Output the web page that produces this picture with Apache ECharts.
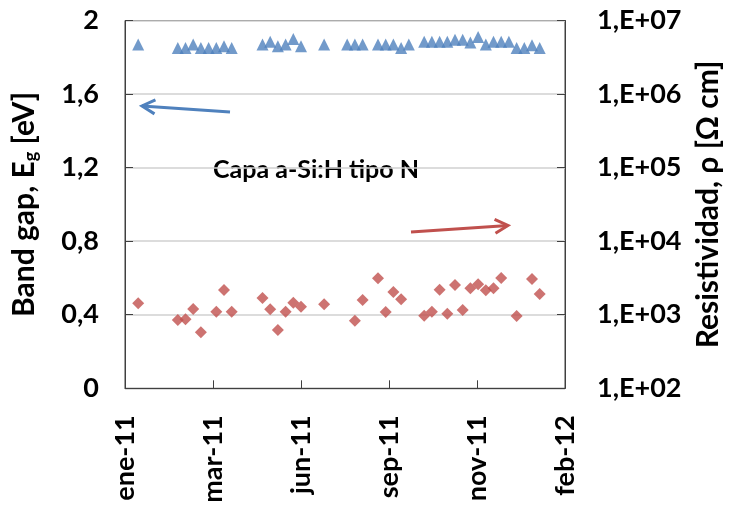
<!DOCTYPE html>
<html>
<head>
<meta charset="utf-8">
<script src="https://cdn.jsdelivr.net/npm/echarts@6/dist/echarts.min.js"></script>
<style>
  html, body { margin: 0; padding: 0; background: #fff; }
  #chart { width: 730px; height: 510px; }
</style>
</head>
<body>
<div id="chart"></div>
<script>
// fechas de medida (semanales)
const fechas = [
  "2011-01-22", "2011-02-27", "2011-03-06", "2011-03-13", "2011-03-20", "2011-03-27",
  "2011-04-03", "2011-04-10", "2011-04-17", "2011-05-15", "2011-05-22", "2011-05-29",
  "2011-06-05", "2011-06-12", "2011-06-19", "2011-07-10", "2011-07-31", "2011-08-07",
  "2011-08-14", "2011-08-28", "2011-09-04", "2011-09-11", "2011-09-18", "2011-09-25",
  "2011-10-09", "2011-10-16", "2011-10-23", "2011-10-30", "2011-11-06", "2011-11-13",
  "2011-11-20", "2011-11-27", "2011-12-04", "2011-12-11", "2011-12-18", "2011-12-25",
  "2012-01-01", "2012-01-08", "2012-01-15", "2012-01-22"
];
// band gap [eV]
const bandGap = [
  1.87, 1.85, 1.85, 1.87, 1.85, 1.85,
  1.85, 1.86, 1.85, 1.87, 1.885, 1.86,
  1.87, 1.90, 1.86, 1.87, 1.87, 1.87,
  1.87, 1.87, 1.87, 1.87, 1.85, 1.87,
  1.885, 1.885, 1.885, 1.885, 1.895, 1.895,
  1.88, 1.91, 1.87, 1.885, 1.885, 1.885,
  1.85, 1.85, 1.865, 1.85
];
// resistividad [ohm cm]
const resistividad = [
  1430, 850, 870, 1200, 580, null,
  1100, 2170, 1100, 1690, 1190, 620,
  1100, 1460, 1280, 1390, null, 830,
  1590, 3130, 1090, 2040, 1620, null,
  970, 1100, 2190, 1030, 2540, 1160,
  2290, 2590, 2150, 2290, 3160, null,
  960, null, 3060, 1910
];
const xTickLabels = ["ene-11", "mar-11", "jun-11", "sep-11", "nov-11", "feb-12"];
const xStart = "2011-01-10";
const tickDays = 80;

const FONT = "Lato";
const DAY = 86400000;
const dayOf = (d) => (new Date(d) - new Date(xStart)) / DAY;

const myChart = echarts.init(document.getElementById("chart"));

function arrow(x1, y1, x2, y2, color) {
  const dx = x1 - x2, dy = y1 - y2;
  const len = Math.sqrt(dx * dx + dy * dy);
  const ux = dx / len, uy = dy / len;
  const h = 13, w = 7;
  return {
    type: "group",
    children: [
      { type: "line", shape: { x1, y1, x2, y2 }, style: { stroke: color, lineWidth: 3 } },
      {
        type: "polyline",
        shape: {
          points: [
            [x2 + ux * h - uy * w, y2 + uy * h + ux * w],
            [x2, y2],
            [x2 + ux * h + uy * w, y2 + uy * h - ux * w],
          ],
        },
        style: { stroke: color, lineWidth: 3, fill: null },
      },
    ],
  };
}

const tickLabel = { color: "#000", fontSize: 27, fontWeight: "bold", fontFamily: FONT };

myChart.setOption({
  animation: false,
  textStyle: { fontFamily: FONT },
  grid: {
    left: 125,
    right: 165,
    top: 20.5,
    bottom: 121.7,
    outerBoundsMode: "none",
    containLabel: false,
    show: true,
    borderColor: "#404040",
    borderWidth: 1,
  },
  xAxis: {
    type: "value",
    min: 0,
    max: tickDays * (xTickLabels.length - 1),
    interval: tickDays,
    axisLine: { show: true, lineStyle: { color: "#404040" } },
    axisTick: { show: true, inside: true, length: 8, lineStyle: { color: "#404040" } },
    splitLine: { show: false },
    axisLabel: {
      ...tickLabel,
      rotate: 90,
      margin: 27,
      formatter: (v) => xTickLabels[Math.round(v / tickDays)],
    },
  },
  yAxis: [
    {
      type: "value",
      min: 0,
      max: 2,
      interval: 0.4,
      name: "Band gap, E{sub|g} [eV]",
      nameLocation: "middle",
      nameRotate: 90,
      nameGap: 85,
      nameTextStyle: {
        color: "#000",
        fontSize: 30,
        fontWeight: "bold",
        fontFamily: FONT,
        rich: { sub: { fontSize: 18, fontWeight: "bold", fontFamily: FONT, padding: [14, 0, 0, 0] } },
      },
      axisLine: { show: true, lineStyle: { color: "#404040" } },
      axisTick: { show: true, inside: true, length: 8, lineStyle: { color: "#404040" } },
      splitLine: { show: true, lineStyle: { color: "#d0d0d0", width: 1.5 } },
      axisLabel: {
        ...tickLabel,
        margin: 26,
        formatter: (v) => String(+v.toFixed(1)).replace(".", ","),
      },
    },
    {
      type: "log",
      logBase: 10,
      min: 100,
      max: 1e7,
      position: "right",
      name: "Resistividad, ρ [Ω cm]",
      nameLocation: "middle",
      nameRotate: 90,
      nameGap: 128,
      nameTextStyle: { color: "#000", fontSize: 30, fontWeight: "bold", fontFamily: FONT },
      axisLine: { show: true, lineStyle: { color: "#404040" } },
      axisTick: { show: true, inside: true, length: 8, lineStyle: { color: "#404040" } },
      splitLine: { show: false },
      minorTick: { show: false },
      axisLabel: {
        ...tickLabel,
        margin: 32,
        formatter: (v) => "1,E+" + String(Math.round(Math.log10(v))).padStart(2, "0"),
      },
    },
  ],
  series: [
    {
      name: "Band gap",
      type: "scatter",
      yAxisIndex: 0,
      symbol: "triangle",
      symbolSize: 12,
      itemStyle: { color: "#4f81bd" },
      data: fechas.map((d, i) => [dayOf(d), bandGap[i]]),
    },
    {
      name: "Resistividad",
      type: "scatter",
      yAxisIndex: 1,
      symbol: "diamond",
      symbolSize: 12,
      itemStyle: { color: "#c0504d" },
      data: fechas
        .map((d, i) => [dayOf(d), resistividad[i]])
        .filter((p) => p[1] != null),
    },
  ],
  graphic: [
    arrow(230, 112, 142, 106, "#4f81bd"),
    arrow(411, 232, 508, 225.5, "#c0504d"),
    {
      type: "text",
      x: 316,
      y: 170,
      style: {
        text: "Capa a-Si:H tipo N",
        align: "center",
        verticalAlign: "middle",
        fill: "#000",
        fontSize: 25,
        fontWeight: "bold",
        fontFamily: FONT,
        backgroundColor: "#fff",
        padding: [4, 14],
      },
    },
  ],
});
</script>
</body>
</html>
